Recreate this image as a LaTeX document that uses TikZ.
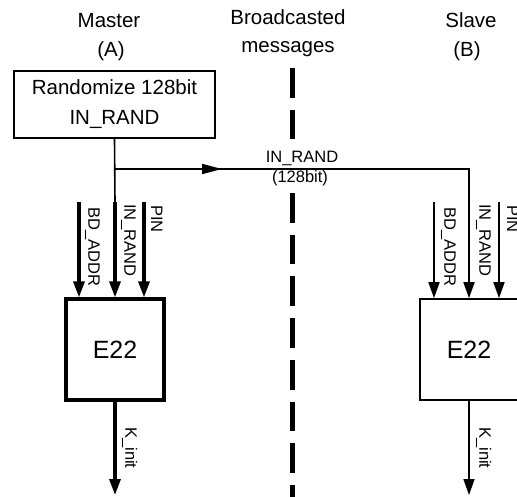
\documentclass[tikz,border=0pt]{standalone}
\usepackage{fontspec}
\setmainfont{Liberation Sans}
\usetikzlibrary{arrows.meta,decorations.markings}
\tikzset{
  head/.style={font=\fontsize{20.5}{24}\selectfont, anchor=base, inner sep=0pt},
  sig/.style={font=\fontsize{16.5}{20}\selectfont, inner sep=0pt},
  vsig/.style={sig, rotate=-90, anchor=south west},
  blk/.style={draw, line width=1.6pt, minimum width=98pt, minimum height=101pt,
    inner sep=0pt, font=\fontsize{25}{30}\selectfont},
  wire/.style={line width=1.6pt},
  bus/.style={line width=3.2pt},
  tip/.style={-{Triangle[length=16pt,width=11pt]}},
  midtip/.style={decoration={markings,
      mark=at position 107pt with {\arrow{Triangle[length=20pt,width=10pt]}}},
    postaction=decorate},
}

\begin{document}
\begin{tikzpicture}[x=1pt,y=-1pt]
  \useasboundingbox (0,0) rectangle (517,497);
  \clip (0,0) rectangle (517,497);
  % column titles
  \node[head] (mst) at (109,28) {Master};
  \node[head] (msta) at (111,57) {(A)};
  \node[head] (brc) at (288,25) {Broadcasted};
  \node[head] (brcm) at (288,53) {messages};
  \node[head] (slv) at (471,28) {Slave};
  \node[head] (slvb) at (467,57) {(B)};
  % air interface
  \coordinate (D1) at (292,68);
  \coordinate (D2) at (292,497);
  \draw[line width=5pt, dash pattern=on 29.7pt off 12pt] (D1) -- (D2);
  \node[sig, anchor=base, fill=white, inner xsep=1pt, inner ysep=3pt] (msg) at (302,163) {IN\_RAND};
  \node[sig, anchor=base, fill=white, inner xsep=1pt, inner ysep=3pt] (msgb) at (300,183) {(128bit)};
  % blocks
  \node[draw, line width=1.6pt, minimum width=201pt, minimum height=67pt, inner sep=0pt,
    align=center, font=\fontsize{20.5}{30}\selectfont] (R) at (114.5,104.5) {Randomize 128bit\\IN\_RAND};
  \node[blk, line width=3.2pt] (EA) at (115,349.5) {E22};
  \node[blk] (EB) at (469,349.5) {E22};
  % inputs
  \coordinate (A1) at (79,202);
  \coordinate (A2) at (115,202);
  \coordinate (A3) at (144,202);
  \coordinate (B1) at (434,202);
  \coordinate (B3) at (499,202);
  \coordinate (S) at (115,169);
  \coordinate (T) at (469,169);
  \draw[wire] (R.south) -- (A2);
  \draw[wire, midtip, tip] (S) -- (T) -- (T |- EB.north);
  \foreach \p in {A1,A2,A3}
    \draw[bus, tip] (\p) -- (\p |- EA.north);
  \foreach \p in {B1,B3}
    \draw[wire, tip] (\p) -- (\p |- EB.north);
  \node[vsig] (la1) at (85,207) {BD\_ADDR};
  \node[vsig] (la2) at (121,204) {IN\_RAND};
  \node[vsig] (la3) at (151,205) {PIN};
  \node[vsig] (lb1) at (441,207) {BD\_ADDR};
  \node[vsig] (lb2) at (476,204) {IN\_RAND};
  \node[vsig] (lb3) at (507,205) {PIN};
  % outputs
  \coordinate (KA) at (115,495);
  \coordinate (KB) at (469,495);
  \draw[bus, tip] (EA.south) -- (KA);
  \draw[wire, tip] (EB.south) -- (KB);
  \node[vsig] (ka) at (122,427) {K\_init};
  \node[vsig] (kb) at (476,427) {K\_init};
\end{tikzpicture}
\end{document}
